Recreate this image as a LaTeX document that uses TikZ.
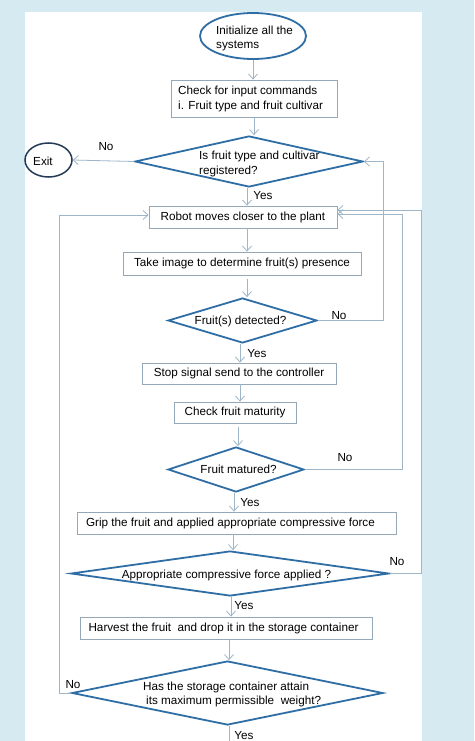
\documentclass[tikz,border=0pt]{standalone}
\usepackage{fontspec}
\setmainfont{Liberation Sans}
\usetikzlibrary{shapes.geometric,arrows.meta,calc}
\definecolor{bgblue}{HTML}{D5EAF1}
\definecolor{diablue}{HTML}{2F6EA5}
\definecolor{exitnavy}{HTML}{243B55}
\definecolor{boxgray}{HTML}{95A8B8}
\definecolor{linegray}{HTML}{9FB6C8}
\begin{document}
\begin{tikzpicture}[x=1pt,y=-1pt,
  every node/.style={font=\fontsize{11.7}{14}\selectfont, inner sep=0pt},
  box/.style={draw=boxgray, line width=0.8pt, inner sep=0pt},
  dia/.style={diamond, draw=diablue, line width=1.8pt, inner sep=0pt},
  ell/.style={ellipse, draw=diablue, line width=1.8pt, inner sep=0pt},
  exitell/.style={ellipse, draw=exitnavy, line width=1.5pt, inner sep=0pt},
  arr/.style={draw=linegray, line width=0.8pt, -{Straight Barb[length=5pt,width=9pt]}},
  plainline/.style={draw=linegray, line width=0.8pt}]
\useasboundingbox (0,0) rectangle (474,741);
\fill[bgblue] (0,0) rectangle (474,741);
\fill[white] (25,12) rectangle (422,741);

% column coordinates
\coordinate (xr1) at (383,0);
\coordinate (xr2) at (402,0);
\coordinate (xr3) at (421,0);
\coordinate (xl) at (59,0);
\coordinate (bot) at (229,745);

% shapes
\node[ell, minimum width=106pt, minimum height=46pt] (init) at (253,36) {};
\node[anchor=west, align=left, font=\fontsize{11.7}{13.5}\selectfont] (initt) at (216,38.5) {Initialize all the\\systems};

\node[box, minimum width=166pt, minimum height=37pt] (b1) at (254,98.5) {};
\node[anchor=west, align=left, font=\fontsize{11.7}{15}\selectfont] (b1t) at (178,98.5) {Check for input commands\\i. Fruit type and fruit cultivar};

\node[dia, minimum width=228pt, minimum height=51pt] (d1) at (249,161.5) {};
\node[anchor=west, align=left, font=\fontsize{11.7}{15}\selectfont] (d1t) at (199,163.5) {Is fruit type and cultivar\\registered?};

\node[exitell, minimum width=47pt, minimum height=34pt] (exit) at (48.5,160) {};
\node (exitt) at (43,161) {Exit};

\node[box, minimum width=188pt, minimum height=22pt] (b2) at (243,217) {Robot moves closer to the plant};
\node[box, minimum width=238pt, minimum height=23pt] (b3) at (242,263.5) {Take image to determine fruit(s) presence};

\node[dia, minimum width=149pt, minimum height=45pt] (d2) at (242.5,320.5) {};
\node (d2t) at (240.5,321) {Fruit(s) detected?};

\node[box, minimum width=194pt, minimum height=21pt] (b4) at (239,373.5) {Stop signal send to the controller};
\node[box, minimum width=122pt, minimum height=21pt] (b5) at (235,412.5) {Check fruit maturity};

\node[dia, minimum width=136pt, minimum height=45pt] (d3) at (236,469.5) {};
\node (d3t) at (238.5,469) {Fruit matured?};

\node[box, minimum width=319pt, minimum height=22pt] (b6) at (236.5,523) {};
\node (b6t) at (230.5,523) {Grip the fruit and applied appropriate compressive force};

\node[dia, minimum width=318pt, minimum height=45pt] (d4) at (230,573.5) {};
\node (d4t) at (226.5,575) {Appropriate compressive force applied ?};

\node[box, minimum width=292pt, minimum height=22pt] (b7) at (226,628) {};
\node (b7t) at (223.5,628) {Harvest the fruit\ \ and drop it in the storage container};

\node[dia, minimum width=311pt, minimum height=64pt] (d5) at (227.5,693) {};
\node[anchor=west, align=left] (d5t) at (143,694) {Has the storage container attain\\\hspace{3pt}its maximum permissible\ \ weight?};

% labels
\node (no1) at (106,147) {No};
\node (yes1) at (263,196) {Yes};
\node (no2) at (339,316) {No};
\node (yes2) at (257,354) {Yes};
\node (no3) at (345,458) {No};
\node (yes3) at (250,503) {Yes};
\node (no4) at (397,562) {No};
\node (yes4) at (244,606) {Yes};
\node (no5) at (73,685) {No};
\node (yes5) at (244,735.5) {Yes};

% vertical connectors
\draw[arr] (init.south) -- (init.south |- b1.north);
\draw[arr] (b1.south) -- (b1.south |- d1.north);
\draw[arr] ([xshift=-2pt]d1.south) -- ([xshift=-2pt]d1.south |- b2.north);
\draw[arr] ([xshift=4pt]b2.south) -- ([xshift=4pt]b2.south |- b3.north);
\draw[arr, shorten <=4pt] ([xshift=5pt]b3.south) -- ([xshift=5pt]b3.south |- d2.north);
\draw[arr] ([xshift=-2.5pt]d2.south) -- ([xshift=-2.5pt]d2.south |- b4.north);
\draw[arr] ([xshift=1pt]b4.south) -- ([xshift=1pt]b4.south |- b5.north);
\draw[arr, shorten <=4pt] ([xshift=3pt]b5.south) -- ([xshift=3pt]b5.south |- d3.north);
\draw[arr] ([xshift=-2pt]d3.south) -- ([xshift=-2pt]d3.south |- b6.north);
\draw[arr] ([xshift=-3.5pt]b6.south) -- ([xshift=-3.5pt]b6.south |- d4.north);
\draw[arr] ([xshift=1pt]d4.south) -- ([xshift=1pt]d4.south |- b7.north);
\draw[arr] ([xshift=3pt]b7.south) -- ([xshift=3pt]b7.south |- d5.north);
\draw[plainline] ([xshift=1.5pt]d5.south) -- ([xshift=1.5pt]d5.south |- bot);

% branch connectors
\draw[arr] (d1.west) -- (exit.east);
\draw[arr] (d2.east) -- (d2.east -| xr1) |- (d1.east);
\draw[arr] (d3.east) -- (d3.east -| xr2) |- ([yshift=3pt]b2.east);
\draw[arr] (d4.east) -- (d4.east -| xr3) |- ([yshift=7pt]b2.east);
\draw[arr] (d5.west) -- (d5.west -| xl) |- ([yshift=2pt]b2.west);
\end{tikzpicture}
\end{document}
